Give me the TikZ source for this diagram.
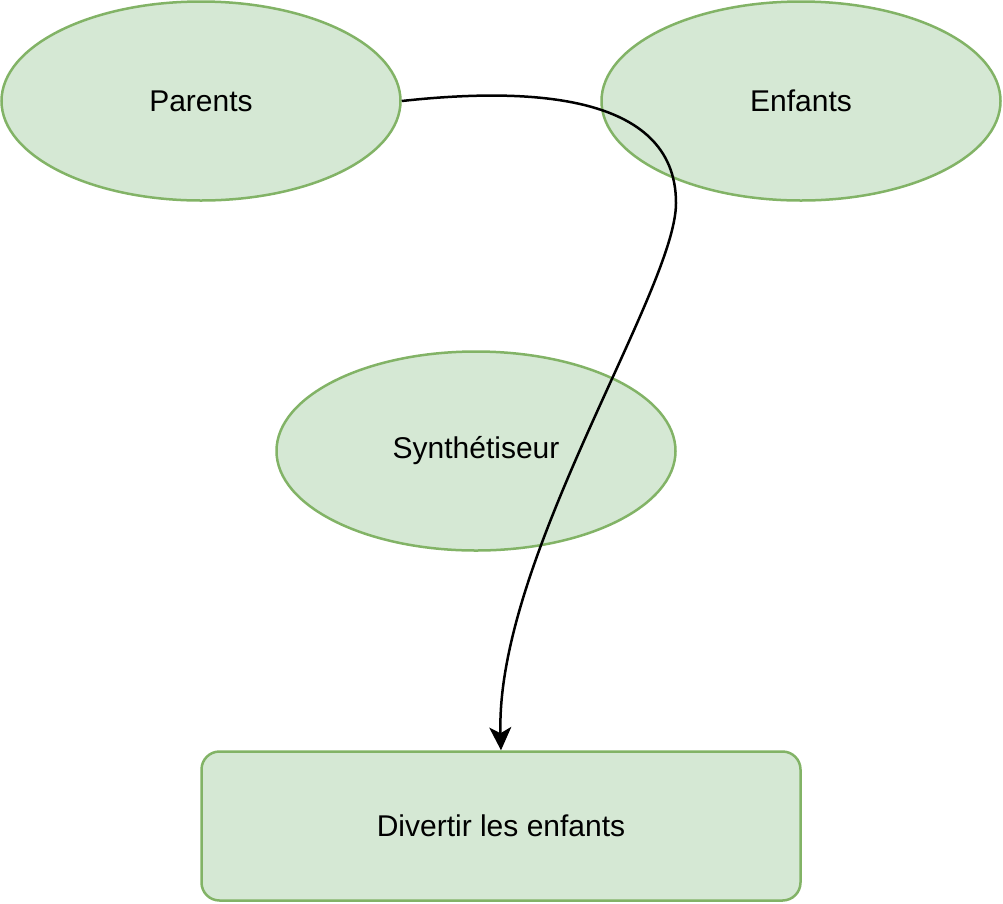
\documentclass[tikz,border=0pt]{standalone}
\usepackage{fontspec}
\setmainfont{Liberation Sans}
\usetikzlibrary{arrows.meta,shapes.geometric}
\definecolor{gfill}{HTML}{D5E8D4}
\definecolor{gdraw}{HTML}{82B366}
\begin{document}
\begin{tikzpicture}[x=1pt,y=-1pt,
  ell/.style={shape=ellipse, draw=gdraw, fill=gfill, line width=2.5pt, minimum width=399pt, minimum height=199pt, inner sep=0pt, font=\fontsize{30}{36}\selectfont},
  rbox/.style={draw=gdraw, fill=gfill, line width=2.5pt, rounded corners=18pt, minimum width=599pt, minimum height=149pt, inner sep=0pt, font=\fontsize{30}{36}\selectfont},
  conn/.style={line width=2.5pt, -{Stealth[length=23pt,width=22pt,inset=6pt]}}]
\useasboundingbox (0,0) rectangle (1003,903);
\node[ell] (parents) at (201,101) {Parents};
\node[ell] (enfants) at (801,101) {Enfants};
\node[ell] (synth) at (476,451) {Synthétiseur};
\node[rbox] (divertir) at (501,826) {Divertir les enfants};
\coordinate (bend) at (676,203);
\draw[conn] (parents.east) .. controls (520,88) and (676,90) .. (bend)
  .. controls (676,290) and (495,560) .. (divertir.north);
\end{tikzpicture}
\end{document}
